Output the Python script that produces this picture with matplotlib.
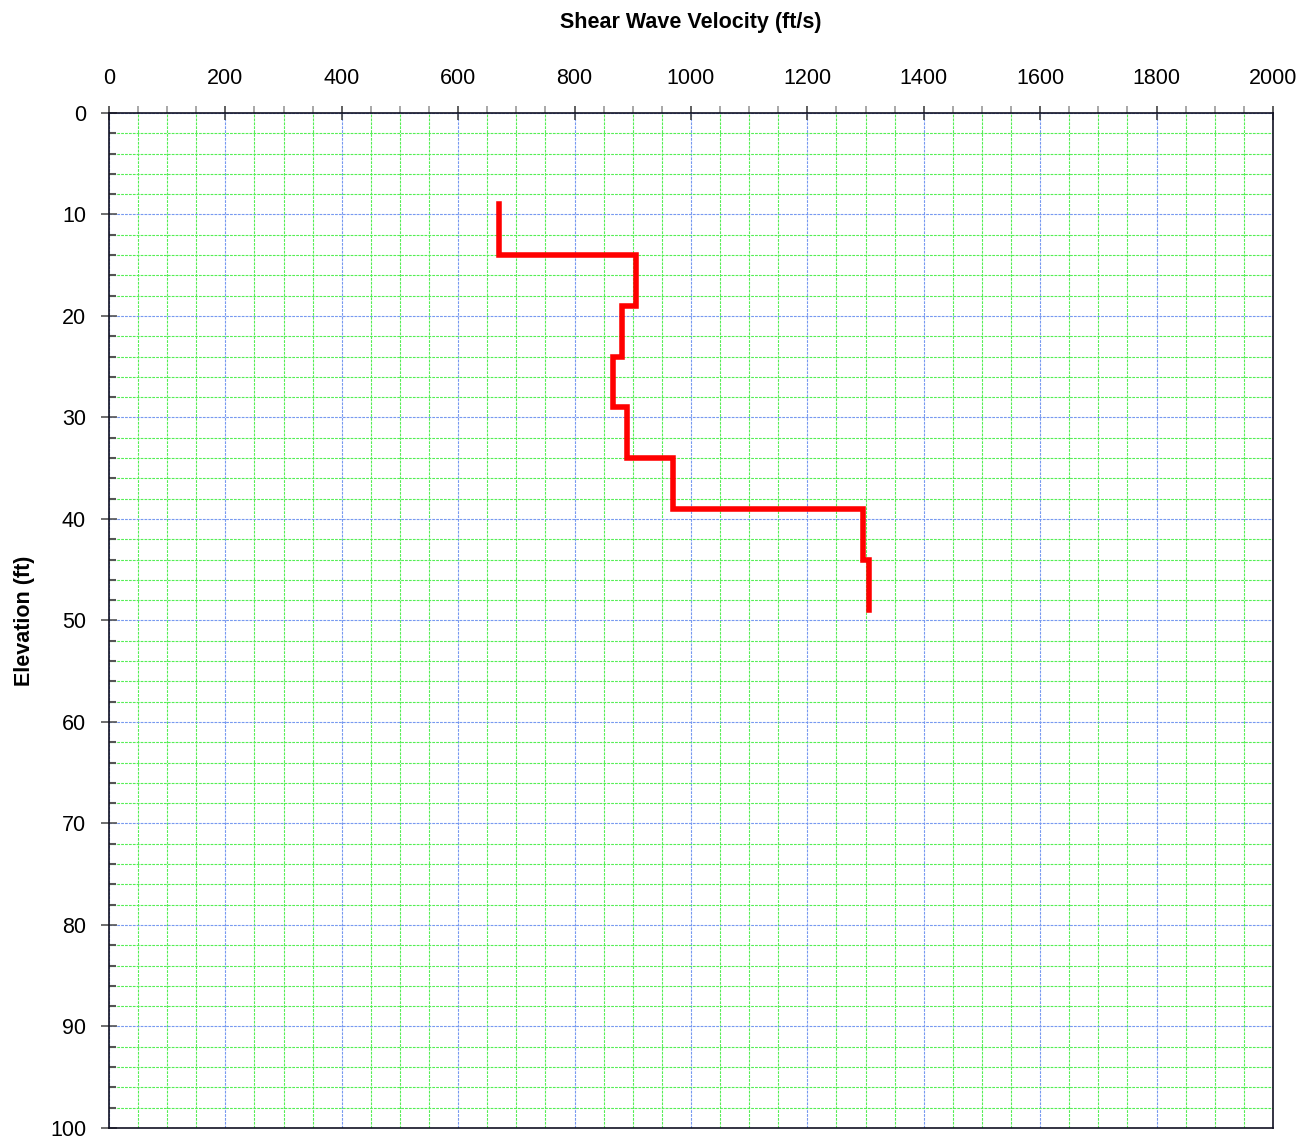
import numpy as np
import matplotlib.pyplot as plt
from matplotlib.ticker import MultipleLocator

plt.rcParams['font.family'] = ['Liberation Sans', 'DejaVu Sans']

# layer tops (ft) and shear wave velocity (ft/s)
layer_top = [9, 14, 19, 24, 29, 34, 39, 44]
layer_bottom = 49
velocity = [670, 905, 882, 866, 890, 969, 1295, 1306]

# build step profile
depths = np.array(layer_top + [layer_bottom])
vs = np.array(velocity)
xs = np.repeat(vs, 2)
ys = np.column_stack([depths[:-1], depths[1:]]).ravel()

fig = plt.figure(figsize=(13.11, 11.42), dpi=100)
ax = fig.add_axes([0.0831, 0.0123, 0.8879, 0.8888])

ax.plot(xs, ys, color='#ff0000', lw=4, solid_joinstyle='miter', zorder=5)

ax.set_xlim(0, 2000)
ax.set_ylim(100, 0)

ax.xaxis.set_major_locator(MultipleLocator(200))
ax.xaxis.set_minor_locator(MultipleLocator(50))
ax.yaxis.set_major_locator(MultipleLocator(10))
ax.yaxis.set_minor_locator(MultipleLocator(2))

ax.xaxis.tick_top()
ax.xaxis.set_label_position('top')

ax.grid(which='minor', color='#55ee55', lw=0.8, ls=(0, (2.5, 1)))
ax.grid(which='major', color='#7799f0', lw=0.8, ls=(0, (2.5, 1)))
ax.set_axisbelow(True)

ax.tick_params(axis='x', which='major', direction='inout', length=10, width=1.2,
               color='#444444', labelsize=15.5, pad=12.5)
ax.tick_params(axis='x', which='minor', direction='out', length=5, width=1.2,
               color='#999999')
ax.tick_params(axis='y', which='major', direction='inout', length=12, width=1.2,
               color='#555555', labelsize=15.5, pad=10.5)
ax.tick_params(axis='y', which='minor', direction='in', length=5, width=1.5,
               color='#555555')

for s in ax.spines.values():
    s.set_color('#111122')
    s.set_linewidth(1.2)

ax.set_xlabel('Shear Wave Velocity (ft/s)', fontsize=15.5, fontweight='bold', labelpad=28.5)
ax.set_ylabel('Elevation (ft)', fontsize=15.5, fontweight='bold', labelpad=11)

fig.savefig('out.png', dpi=100)
